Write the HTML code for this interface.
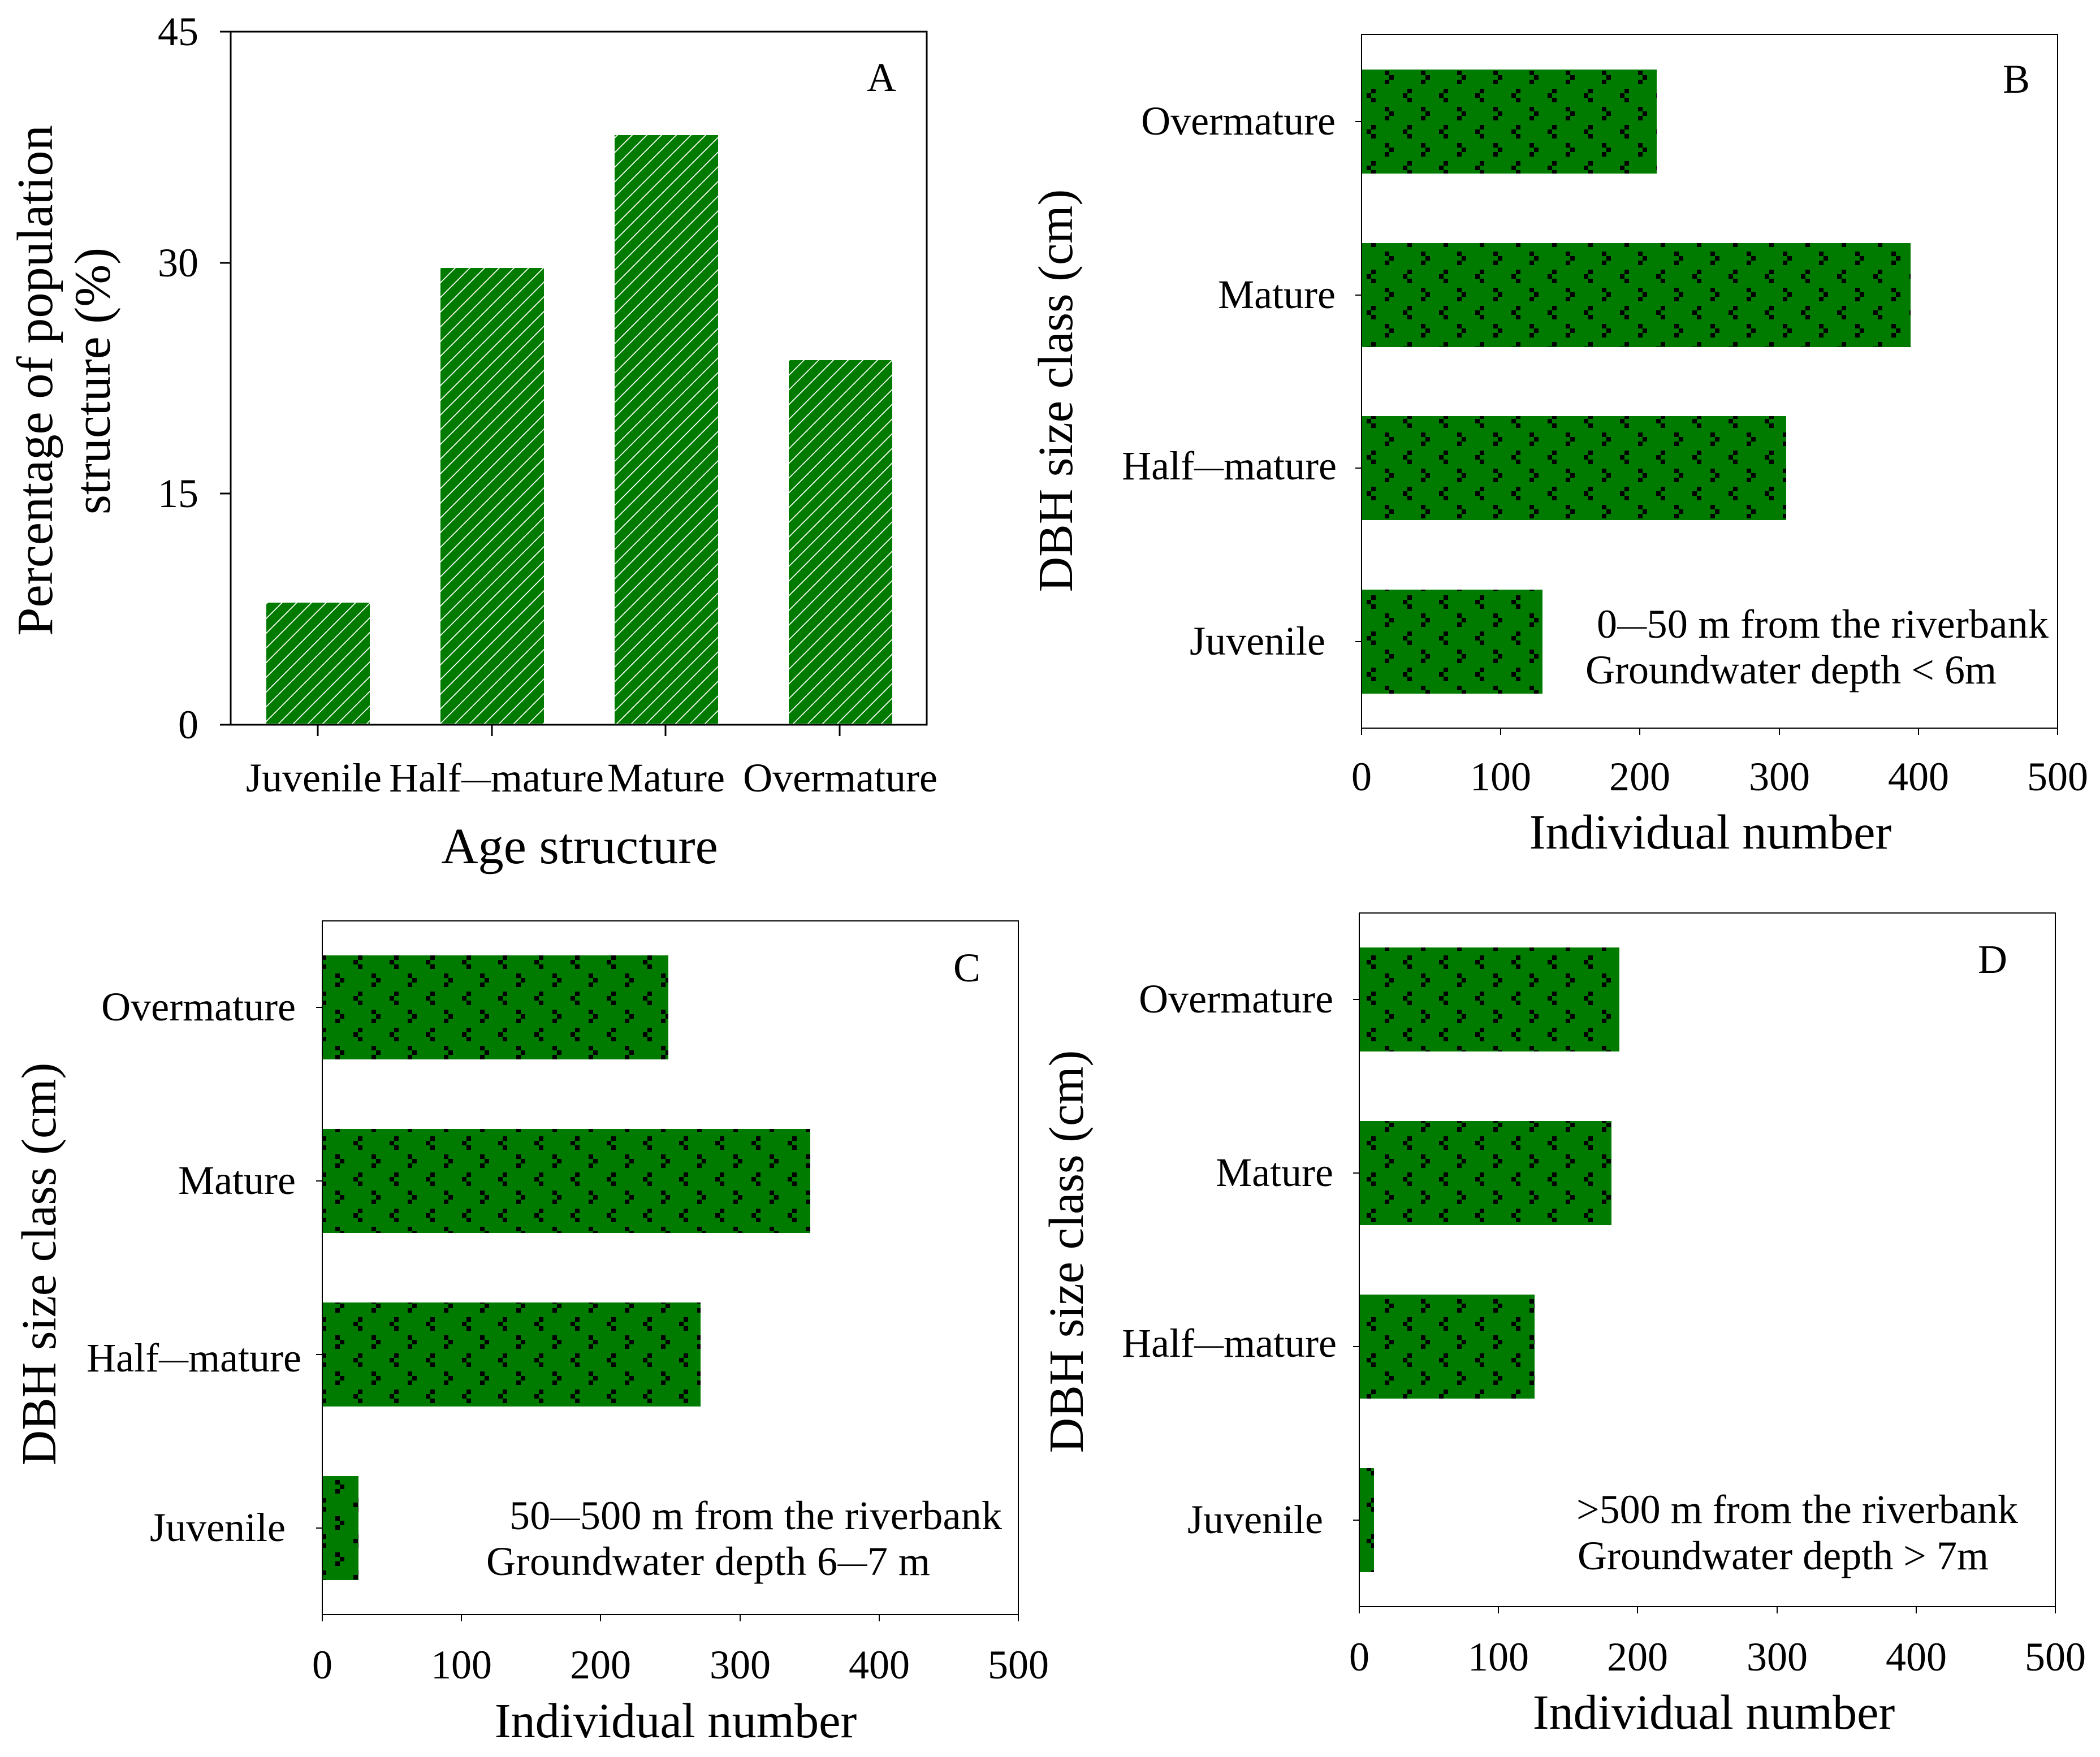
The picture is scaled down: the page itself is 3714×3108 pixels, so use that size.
<!DOCTYPE html>
<html lang="en">
<head>
<meta charset="utf-8">
<title>Population structure by age and DBH size class</title>
<style>
html,body{margin:0;padding:0;background:#fff}
svg{display:block}
text{font-family:"Liberation Serif","Times New Roman",serif;fill:#000}
</style>
</head>
<body>
<svg id="chart" xmlns="http://www.w3.org/2000/svg" width="3714" height="3108" viewBox="0 0 3714 3108">
  <defs>
    <pattern id="hatch" patternUnits="userSpaceOnUse" x="5" y="0" width="26" height="26">
      <rect width="26" height="26" fill="#007b00"/>
      <path d="M-2 28L28 -2M-15 15L15 -15M11 41L41 11" stroke="#fff" stroke-width="1.7" fill="none"/>
    </pattern>
    <g id="dots">
      <rect width="64" height="64" fill="#007b00"/>
      <path d="M32 0h8v8h-8zM40 8h8v8h-8zM32 16h8v8h-8zM8 32h8v8h-8zM0 40h8v8h-8zM8 48h8v8h-8z" fill="#000" shape-rendering="crispEdges"/>
    </g>
    <pattern id="dots-b" patternUnits="userSpaceOnUse" x="2417" y="125" width="64" height="64"><use href="#dots"/></pattern>
    <pattern id="dots-c" patternUnits="userSpaceOnUse" x="561" y="1722" width="64" height="64"><use href="#dots"/></pattern>
    <pattern id="dots-d" patternUnits="userSpaceOnUse" x="2417" y="1722" width="64" height="64"><use href="#dots"/></pattern>
  </defs>
  <rect width="3714" height="3108" fill="#fff"/>

  <g id="panel-a"></g>
  <g id="panel-b"></g>
  <g id="panel-c"></g>
  <g id="panel-d"></g>

  <g font-size="72" text-anchor="middle">
    <text x="1559" y="161">A</text>
    <text x="3566" y="164">B</text>
    <text x="1710" y="1736">C</text>
    <text x="3524" y="1721">D</text>
  </g>

  <g text-anchor="middle">
    <text x="1025" y="1527" font-size="90.4">Age structure</text>
    <text transform="translate(92 673) rotate(-90)" font-size="90.4">Percentage of population</text>
    <text transform="translate(194 674) rotate(-90)" font-size="90">structure (%)</text>
    <text x="3025" y="1501" font-size="86.4">Individual number</text>
    <text transform="translate(1896 691) rotate(-90)" font-size="86.4">DBH size class (cm)</text>
    <text x="1195" y="3073" font-size="86.4">Individual number</text>
    <text transform="translate(98 2236) rotate(-90)" font-size="86.4">DBH size class (cm)</text>
    <text x="3031" y="3058" font-size="86.4">Individual number</text>
    <text transform="translate(1915 2214) rotate(-90)" font-size="86.4">DBH size class (cm)</text>
  </g>

  <g font-size="72">
    <text x="2824" y="1128" textLength="799" lengthAdjust="spacing">0<tspan font-size="52" dy="-5">—</tspan><tspan dy="5">50 m from the riverbank</tspan></text>
    <text x="2804" y="1209" textLength="727" lengthAdjust="spacing">Groundwater depth &lt; 6m</text>
    <text x="901" y="2705" textLength="871" lengthAdjust="spacing">50<tspan font-size="52" dy="-5">—</tspan><tspan dy="5">500 m from the riverbank</tspan></text>
    <text x="860" y="2786" textLength="785" lengthAdjust="spacing">Groundwater depth 6<tspan font-size="52" dy="-5">—</tspan><tspan dy="5">7 m</tspan></text>
    <text x="2788" y="2694" textLength="781" lengthAdjust="spacing">&gt;500 m from the riverbank</text>
    <text x="2790" y="2776" textLength="727" lengthAdjust="spacing">Groundwater depth &gt; 7m</text>
  </g>
</svg>

<script>
// Chart data
const ageCategories = ['Juvenile', 'Half—mature', 'Mature', 'Overmature'];
const ageStructureValues = [7.93, 29.66, 38.3, 23.68];
const ageTicks = [0, 15, 30, 45];

const dbhCategories = ['Juvenile', 'Half—mature', 'Mature', 'Overmature'];
const panelBValues = [130, 305, 394.5, 212];
const panelCValues = [26, 271.7, 350.6, 248.6];
const panelDValues = [10.6, 126, 181, 186.7];
const individualTicks = [0, 100, 200, 300, 400, 500];

const SVG_NS = 'http://www.w3.org/2000/svg';

function make(parent, tag, attrs) {
  const el = document.createElementNS(SVG_NS, tag);
  for (const k in attrs) el.setAttribute(k, attrs[k]);
  parent.appendChild(el);
  return el;
}

function fillLabel(el, str) {
  const parts = str.split('—');
  el.appendChild(document.createTextNode(parts[0]));
  if (parts.length > 1) {
    const dash = make(el, 'tspan', { 'font-size': 52, dy: -5 });
    dash.textContent = '—';
    const rest = make(el, 'tspan', { dy: 5 });
    rest.textContent = parts[1];
  }
}

function kebab(str) {
  return str.toLowerCase().replace(/—/g, '-');
}

// Panel A: vertical hatched bars
function drawVerticalPanel(g, o) {
  const yScale = v => o.bottom - (v / o.yMax) * (o.bottom - o.top);
  const band = (o.right - o.left) / ageCategories.length;
  const xCenter = i => o.left + (i + 0.5) * band;
  const barWidth = band * 0.594;

  ageStructureValues.forEach((v, i) => {
    const top = Math.round(yScale(v));
    const bar = make(g, 'rect', {
      x: Math.round(xCenter(i) - barWidth / 2 + 1),
      y: top,
      width: Math.round(barWidth),
      height: o.bottom - 2 - top,
      fill: 'url(#hatch)'
    });
    
    
  });

  const frame = make(g, 'path', {
    d: `M${o.left} ${o.bottom}V${o.top}M${o.left - 19} ${o.top}H${o.right}V${o.bottom}H${o.left - 19}`,
    fill: 'none', stroke: '#000', 'stroke-width': 3
  });
  
  

  ageTicks.forEach(t => {
    const y = Math.round(yScale(t));
    const tick = make(g, 'line', { x1: o.left - 19, x2: o.left, y1: y, y2: y, stroke: '#000', 'stroke-width': 3 });
    
    
    const label = make(g, 'text', { x: 351, y: y + 24, 'font-size': 72, 'text-anchor': 'end' });
    label.textContent = String(t);
    
    
  });

  ageCategories.forEach((c, i) => {
    const x = Math.round(xCenter(i));
    const tick = make(g, 'line', { x1: x, x2: x, y1: o.bottom, y2: o.bottom + 20, stroke: '#000', 'stroke-width': 3 });
    
    
    const label = make(g, 'text', { x: x + o.labelNudge(i), y: 1400, 'font-size': 72, 'text-anchor': 'middle' });
    fillLabel(label, c);
    
    
  });
}

// Panels B, C, D: horizontal dotted bars
function drawHorizontalPanel(g, values, o) {
  const xScale = v => o.left + (v / 500) * (o.right - o.left);
  const band = (o.bottom - o.top) / dbhCategories.length;
  const yCenter = i => o.bottom - (i + 0.5) * band + o.shift;
  const barHeight = 184;

  values.forEach((v, i) => {
    const bar = make(g, 'rect', {
      x: o.left,
      y: Math.round(yCenter(i) - barHeight / 2),
      width: Math.round(xScale(v) - o.left),
      height: barHeight,
      fill: `url(#${o.pattern})`,
      'shape-rendering': 'crispEdges'
    });
    
    
  });

  const frame = make(g, 'rect', {
    x: o.left, y: o.top, width: o.right - o.left, height: o.bottom - o.top,
    fill: 'none', stroke: '#000', 'stroke-width': 2, 'shape-rendering': 'crispEdges'
  });
  
  

  individualTicks.forEach(t => {
    const x = Math.round(xScale(t));
    const tick = make(g, 'line', { x1: x, x2: x, y1: o.bottom, y2: o.bottom + 12, stroke: '#000', 'stroke-width': 2, 'shape-rendering': 'crispEdges' });
    
    
    const label = make(g, 'text', { x: x, y: o.xLabelY, 'font-size': 72, 'text-anchor': 'middle' });
    label.textContent = String(t);
    
    
  });

  dbhCategories.forEach((c, i) => {
    const y = Math.round(yCenter(i));
    const tick = make(g, 'line', { x1: o.left - 11, x2: o.left, y1: y, y2: y, stroke: '#000', 'stroke-width': 2, 'shape-rendering': 'crispEdges' });
    
    
    const label = make(g, 'text', { x: o.labelEnd(i), y: y + o.labelDrop(i), 'font-size': 72, 'text-anchor': 'end' });
    fillLabel(label, c);
    
    
  });
}

drawVerticalPanel(document.getElementById('panel-a'), {
  left: 408, right: 1639, top: 56, bottom: 1282, yMax: 45,
  labelNudge: i => (i === 0 ? -7 : i === 1 ? 8 : i === 2 ? 1 : 1)
});

drawHorizontalPanel(document.getElementById('panel-b'), panelBValues, {
  id: 'panel-b', pattern: 'dots-b', left: 2408, right: 3639, top: 61, bottom: 1288, shift: 0.6, xLabelY: 1398,
  labelEnd: i => (i === 0 ? 2344 : i === 1 ? 2364 : 2362),
  labelDrop: i => (i === 1 ? 20 : 23)
});

drawHorizontalPanel(document.getElementById('panel-c'), panelCValues, {
  id: 'panel-c', pattern: 'dots-c', left: 570, right: 1801, top: 1629, bottom: 2856, shift: 0, xLabelY: 2969,
  labelEnd: i => (i === 0 ? 505 : i === 1 ? 533 : 523),
  labelDrop: i => (i === 1 ? 30 : 23)
});

drawHorizontalPanel(document.getElementById('panel-d'), panelDValues, {
  id: 'panel-d', pattern: 'dots-d', left: 2404, right: 3635, top: 1615, bottom: 2842, shift: 0, xLabelY: 2955,
  labelEnd: i => (i === 0 ? 2340 : i === 1 ? 2364 : 2358),
  labelDrop: i => (i === 1 ? 18 : 23)
});
</script>
</body>
</html>
